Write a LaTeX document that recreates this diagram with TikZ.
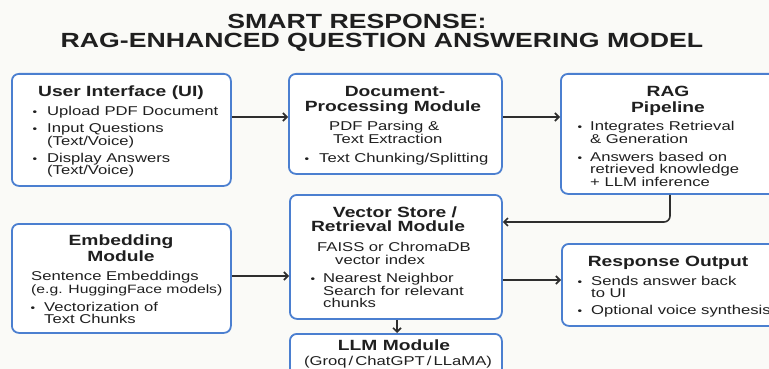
\documentclass[tikz,border=0pt]{standalone}
\usepackage{fontspec}
\setmainfont{Liberation Sans}[FakeStretch=1.3]
\usetikzlibrary{arrows.meta}
\definecolor{boxblue}{HTML}{4B7FD0}
\definecolor{ink}{HTML}{1F1F1F}
\definecolor{arrowgray}{HTML}{2E2E2E}
\definecolor{paper}{HTML}{FAFAF7}
\newcommand\ttlfnt{\fontsize{20.5}{22}\selectfont\bfseries}
\newcommand\hdfnt{\fontsize{14.8}{16}\selectfont\bfseries}
\newcommand\bdfnt{\fontsize{12.8}{14}\selectfont}
\newcommand\blfnt{\fontsize{10}{11}\selectfont}
\tikzset{
  box/.style={draw=boxblue, line width=1.8pt, rounded corners=7pt, fill=white, anchor=north west, inner sep=0pt},
  arr/.style={draw=arrowgray, line width=1.6pt, -{Straight Barb[length=4pt,width=8pt]}},
  ttl/.style={font=\ttlfnt, text=ink, anchor=base, inner sep=0pt},
  hd/.style={font=\hdfnt, text=ink, anchor=base, inner sep=0pt},
  tx/.style={font=\bdfnt, text=ink, anchor=base west, inner sep=0pt},
  bul/.style={font=\blfnt, text=ink, anchor=base, inner sep=0pt},
}
\begin{document}
\begin{tikzpicture}[x=1pt,y=-1pt]
\useasboundingbox (0,0) rectangle (769,369);
\clip (0,0) rectangle (769,369);
\fill[paper] (0,0) rectangle (769,369);

% title
\node[ttl] (title1) at (357,28.3) {SMART RESPONSE:};
\node[ttl] (title2) at (382,47.7) {RAG-ENHANCED QUESTION ANSWERING MODEL};

% boxes
\node[box, minimum width=219pt, minimum height=112pt] (ui)   at (11,73)  {};
\node[box, minimum width=213pt, minimum height=100pt] (doc)  at (288,73) {};
\node[box, minimum width=240pt, minimum height=120pt] (rag)  at (560,73) {};
\node[box, minimum width=219pt, minimum height=109pt] (emb)  at (11,223) {};
\node[box, minimum width=212pt, minimum height=124pt] (vec)  at (289,194) {};
\node[box, minimum width=212pt, minimum height=60pt]  (llm)  at (289,333) {};
\node[box, minimum width=240pt, minimum height=82pt]  (resp) at (561,243) {};

% connectors
\coordinate (ya) at (0,117);
\coordinate (yb) at (0,222);
\coordinate (yc) at (0,276);
\coordinate (yd) at (0,280);
\coordinate (xr) at (670,0);
\coordinate (xe) at (397,0);
\draw[arr] (ui.east |- ya) -- (doc.west |- ya);
\draw[arr] (doc.east |- ya) -- (rag.west |- ya);
\draw[arr, rounded corners=6pt] (rag.south -| xr) -- (xr |- yb) -- (vec.east |- yb);
\draw[arr] (emb.east |- yc) -- (vec.west |- yc);
\draw[arr] (vec.east |- yd) -- (resp.west |- yd);
\draw[arr] (vec.south -| xe) -- (llm.north -| xe);

% User Interface
\node[hd] (uih) at (121,96.3) {User Interface (UI)};
\node[bul] (uib1) at (35,115.5) {•};
\node[tx] (uit1) at (47,115.5) {Upload PDF Document};
\node[bul] (uib2) at (35,132.5) {•};
\node[tx] (uit2) at (47,132.5) {Input Questions};
\node[tx] (uit3) at (47,145.5) {(Text/Voice)};
\node[bul] (uib3) at (35,162.5) {•};
\node[tx] (uit4) at (47,162.5) {Display Answers};
\node[tx] (uit5) at (47,174.5) {(Text/Voice)};

% Document processing
\node[hd] (doch1) at (395,96.3) {Document-};
\node[hd] (doch2) at (393,111.3) {Processing Module};
\node[tx] (doct1) at (329,130.5) {PDF Parsing \&};
\node[tx] (doct2) at (333,143.5) {Text Extraction};
\node[bul] (docb1) at (307,162.5) {•};
\node[tx] (doct3) at (319,162.5) {Text Chunking/Splitting};

% RAG pipeline
\node[hd] (ragh1) at (668,96.3) {RAG};
\node[hd] (ragh2) at (668,112.3) {Pipeline};
\node[bul] (ragb1) at (580,130.5) {•};
\node[tx] (ragt1) at (590,130.5) {Integrates Retrieval};
\node[tx] (ragt2) at (590,143.5) {\& Generation};
\node[bul] (ragb2) at (580,161.5) {•};
\node[tx] (ragt3) at (590,161.5) {Answers based on};
\node[tx] (ragt4) at (590,173.5) {retrieved knowledge};
\node[tx] (ragt5) at (590,186.5) {+ LLM inference};

% Embedding
\node[hd] (embh1) at (121,245.3) {Embedding};
\node[hd] (embh2) at (121,261.3) {Module};
\node[tx] (embt1) at (31,280.5) {Sentence Embeddings};
\node[tx, font=\fontsize{12.1}{14}\selectfont] (embt2) at (31,293.5) {(e.g. HuggingFace models)};
\node[bul] (embb1) at (33,311.5) {•};
\node[tx] (embt3) at (44,311.5) {Vectorization of};
\node[tx] (embt4) at (44,323.5) {Text Chunks};

% Vector store
\node[hd] (vech1) at (395,217.3) {Vector Store /};
\node[hd] (vech2) at (388,231.3) {Retrieval Module};
\node[tx] (vect1) at (317,251.5) {FAISS or ChromaDB};
\node[tx] (vect2) at (335,264.5) {vector index};
\node[bul] (vecb1) at (313,282.5) {•};
\node[tx] (vect3) at (323,282.5) {Nearest Neighbor};
\node[tx] (vect4) at (323,295.5) {Search for relevant};
\node[tx] (vect5) at (323,307.5) {chunks};

% LLM
\node[hd] (llmh) at (394,350.3) {LLM Module};
\node[tx, anchor=base] (llmt) at (398,365.5) {(Groq\,/\,ChatGPT\,/\,LLaMA)};

% Response
\node[hd] (resph) at (668,266.3) {Response Output};
\node[bul] (respb1) at (580,285.5) {•};
\node[tx] (respt1) at (591,285.5) {Sends answer back};
\node[tx] (respt2) at (591,297.5) {to UI};
\node[bul] (respb2) at (580,314.5) {•};
\node[tx] (respt3) at (591,314.5) {Optional voice synthesis};
\end{tikzpicture}
\end{document}
